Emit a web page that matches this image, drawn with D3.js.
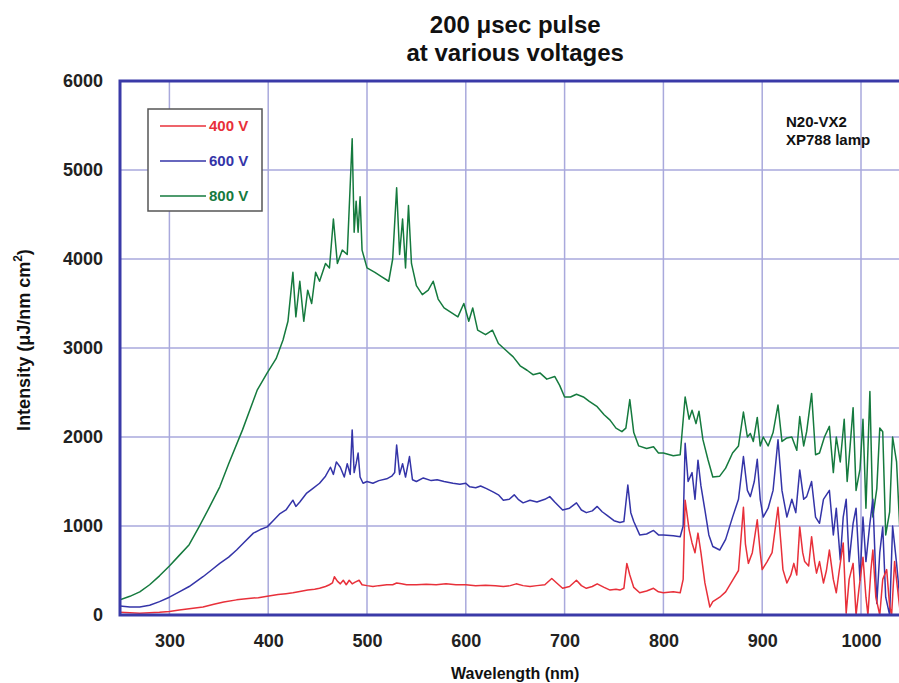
<!DOCTYPE html>
<html><head><meta charset="utf-8">
<script src="https://cdn.jsdelivr.net/npm/d3@7"></script>
<style>body{margin:0;background:#fff}svg{display:block}</style>
</head><body>
<script>
const titleLines = ["200 \u03BCsec pulse", "at various voltages"];
const xTicks = [300, 400, 500, 600, 700, 800, 900, 1000];
const yTicks = [0, 1000, 2000, 3000, 4000, 5000, 6000];
const seriesNames = ["400 V", "600 V", "800 V"];
const seriesColors = ["#e8303a", "#3434a8", "#157a3e"];

const redNm  = [250,260,270,280,290,300,310,320,334,345,355,368,380,390,399,410,418,425,432,440,447,452,458,462,465,467,470,473,476,479,482,485,488,492,495,500,506,512,520,526,530,535,540,550,560,570,580,590,600,610,620,630,638,645,651,658,665,672,680,687,692,698,705,712,717,722,728,733,740,746,752,756,760,763,766,770,776,783,790,795,800,810,817,820,822,826,829,832,835,838,842,847,850,857,863,870,876,881,883,886,890,895,898,900,905,910,916,919,921,925,929,932,935,938,941,943,947,950,953,955,958,962,965,968,972,975,978,982,985,988,992,995,998,1002,1005,1007,1010,1012,1015,1019,1022,1026,1029,1031,1034,1036,1040,1045];
const redVal = [30,25,20,25,30,40,55,70,90,120,145,170,185,195,210,230,240,250,265,280,290,300,320,340,360,430,380,350,390,340,390,350,370,390,340,330,320,330,340,340,360,350,340,340,345,340,350,340,340,330,335,330,320,330,350,330,320,330,340,410,360,300,320,390,330,300,320,350,310,280,290,280,300,580,450,310,250,270,300,260,250,260,250,400,1290,960,810,700,920,700,360,90,150,200,260,390,500,1210,800,580,700,1070,700,510,600,700,1210,800,510,360,450,580,450,990,700,600,550,880,600,470,600,360,500,730,400,250,500,810,20,400,580,0,300,650,200,0,500,730,200,0,400,510,100,0,600,390,0,500];

const blueNm  = [250,260,270,280,290,300,310,320,334,342,351,360,368,376,385,392,399,405,412,418,425,428,432,439,445,452,458,463,466,469,473,477,480,483,485,487,489,491,493,496,500,506,512,520,525,528,530,533,536,539,543,546,550,557,565,571,578,587,594,600,604,610,615,621,628,633,638,644,649,653,658,665,672,680,685,690,698,705,712,717,722,728,733,738,743,750,756,760,764,767,770,776,783,790,795,800,810,817,820,822,825,829,832,835,838,842,846,850,857,863,870,876,881,885,888,892,895,898,901,906,911,916,920,925,930,934,938,942,945,950,954,958,962,968,972,975,979,982,985,988,992,995,999,1002,1005,1009,1012,1016,1019,1022,1025,1029,1032,1036,1040,1045];
const blueVal = [100,90,90,110,150,200,260,320,430,500,580,650,730,820,920,960,990,1060,1140,1180,1290,1220,1270,1370,1420,1480,1560,1660,1580,1720,1660,1550,1700,1580,2080,1600,1700,1820,1550,1480,1500,1480,1510,1530,1560,1600,1910,1580,1700,1550,1780,1520,1500,1540,1510,1520,1500,1480,1470,1480,1440,1430,1450,1420,1380,1350,1290,1300,1350,1300,1260,1290,1270,1300,1330,1270,1180,1200,1260,1180,1150,1170,1220,1160,1120,1060,1040,1050,1460,1150,1050,900,910,950,900,900,890,880,1000,1930,1500,1600,1300,1740,1450,1180,900,770,730,850,1100,1300,1780,1400,1330,1500,1750,1300,1100,1200,1400,1970,1400,1100,1300,1150,1630,1300,1330,1500,1100,1030,1300,1400,900,1200,620,1100,1300,600,1030,1200,390,1100,600,1030,1300,130,700,990,200,0,1000,580,100,800];

const greenNm  = [250,260,270,280,290,300,310,320,330,340,351,360,374,389,399,408,415,420,425,428,432,436,440,444,448,452,458,462,466,470,475,480,485,487,489,491,493,495,500,508,515,522,526,530,533,536,539,542,545,550,556,562,567,572,578,585,592,598,603,607,612,620,627,633,640,648,655,662,668,675,682,690,695,700,706,712,719,725,733,740,746,752,758,762,766,770,775,783,790,795,800,810,817,822,826,829,833,836,840,845,850,857,863,870,876,881,885,888,891,895,898,901,906,911,916,920,925,930,935,938,942,945,950,954,958,963,968,972,975,979,983,986,989,992,995,999,1002,1005,1009,1012,1016,1019,1022,1025,1029,1032,1036,1040,1045];
const greenVal = [170,210,260,340,440,550,670,790,990,1200,1440,1700,2080,2530,2720,2880,3090,3300,3850,3350,3750,3300,3650,3500,3850,3750,3950,3900,4450,3950,4100,4050,5350,4300,4650,4300,4700,4100,3900,3850,3800,3750,4000,4800,4050,4450,3900,4600,3950,3700,3600,3650,3750,3550,3450,3400,3350,3500,3300,3450,3200,3150,3200,3050,2980,2900,2800,2750,2700,2720,2650,2680,2580,2450,2450,2480,2450,2400,2340,2250,2190,2100,2060,2100,2420,2050,1900,1870,1890,1820,1820,1790,1800,2450,2200,2300,2150,2290,1970,1750,1550,1560,1650,1820,1900,2280,2000,2040,1950,2220,1900,2000,1900,2050,2360,1950,1990,2000,1850,2230,1900,2060,2490,1800,1820,2000,2120,1600,2000,1720,2200,1500,1900,2330,1400,1640,2200,1200,2510,1100,1420,2100,2060,900,1160,2000,1720,800,1500];

const annotLines = ["N20-VX2", "XP788 lamp"];
const xLabel = "Wavelength (nm)";

const W = 899, H = 683;
const mLeft = 120, mTop = 81, mBottom = 615;
const x = d3.scaleLinear().domain([250, 1050]).range([mLeft, mLeft + 800 * 0.988]);
const y = d3.scaleLinear().domain([0, 6000]).range([mBottom, mTop]);
const FONT = "'Liberation Sans', Arial, sans-serif";

const svg = d3.select("body").append("svg").attr("width", W).attr("height", H)
  .style("font-family", FONT);

svg.append("defs").append("clipPath").attr("id", "clip")
  .append("rect").attr("x", mLeft).attr("y", mTop).attr("width", x.range()[1] - mLeft).attr("height", mBottom - mTop);

// gridlines
const grid = svg.append("g");
grid.selectAll(".vg").data(xTicks).enter().append("line")
  .attr("x1", d => x(d)).attr("x2", d => x(d)).attr("y1", mTop).attr("y2", mBottom)
  .attr("stroke", "#a9a9dc").attr("stroke-width", 1.5);
grid.selectAll(".hg").data(yTicks.filter(d => d > 0 && d < 6000)).enter().append("line")
  .attr("x1", mLeft).attr("x2", W).attr("y1", d => y(d)).attr("y2", d => y(d))
  .attr("stroke", "#a9a9dc").attr("stroke-width", 1.5);

// series
const seriesData = [
  redNm.map((n, i) => [n, redVal[i]]),
  blueNm.map((n, i) => [n, blueVal[i]]),
  greenNm.map((n, i) => [n, greenVal[i]])
];
const line = d3.line().x(d => x(d[0])).y(d => y(d[1]));
const plotG = svg.append("g").attr("clip-path", "url(#clip)");
[2, 1, 0].forEach(i => {
  plotG.append("path").datum(seriesData[i]).attr("d", line)
    .attr("fill", "none").attr("stroke", seriesColors[i]).attr("stroke-width", 1.5)
    .attr("stroke-linejoin", "round");
});

// frame
svg.append("path")
  .attr("d", `M${W + 5},${mTop}H${mLeft}V${mBottom}H${W + 5}`)
  .attr("fill", "none").attr("stroke", "#3a3aa8").attr("stroke-width", 3);

// axes labels
const xAxis = d3.axisBottom(x).tickValues(xTicks).tickSize(0).tickPadding(19).tickFormat(d3.format("d"));
const gx = svg.append("g").attr("transform", `translate(0,${mBottom})`).call(xAxis);
gx.select(".domain").remove();
gx.selectAll("text").attr("font-size", 18).attr("font-weight", "bold").attr("fill", "#222")
  .style("font-family", FONT);

const yAxis = d3.axisLeft(y).tickValues(yTicks).tickSize(0).tickPadding(17).tickFormat(d3.format("d"));
const gy = svg.append("g").attr("transform", `translate(${mLeft},0)`).call(yAxis);
gy.select(".domain").remove();
gy.selectAll("text").attr("font-size", 18).attr("font-weight", "bold").attr("fill", "#222")
  .style("font-family", FONT);

// title
const cx = (x.range()[0] + x.range()[1]) / 2;
svg.selectAll(".title").data(titleLines).enter().append("text")
  .attr("x", cx).attr("y", (d, i) => 33 + i * 28)
  .attr("text-anchor", "middle").attr("font-size", 24).attr("font-weight", "bold").attr("fill", "#111")
  .text(d => d);

// x label
svg.append("text").attr("x", cx).attr("y", 679).attr("text-anchor", "middle")
  .attr("font-size", 16).attr("font-weight", "bold").attr("fill", "#111").text(xLabel);

// y label
const yl = svg.append("text").attr("transform", "translate(30,340) rotate(-90)")
  .attr("text-anchor", "middle").attr("font-size", 18).attr("font-weight", "bold").attr("fill", "#111");
yl.append("tspan").text("Intensity  (\u03BCJ/nm cm");
yl.append("tspan").attr("font-size", 12).attr("dy", -8).text("2");
yl.append("tspan").attr("dy", 8).text(")");

// legend
const lg = svg.append("g");
lg.append("rect").attr("x", 148).attr("y", 109).attr("width", 114).attr("height", 102)
  .attr("fill", "#fff").attr("stroke", "#555").attr("stroke-width", 1.5);
seriesNames.forEach((nm, i) => {
  const yy = 126 + i * 35;
  lg.append("line").attr("x1", 160).attr("x2", 206).attr("y1", yy).attr("y2", yy)
    .attr("stroke", seriesColors[i]).attr("stroke-width", 1.5);
  lg.append("text").attr("x", 209).attr("y", yy + 5).attr("font-size", 15).attr("font-weight", "bold")
    .attr("fill", seriesColors[i]).text(nm);
});

// annotation
svg.selectAll(".annot").data(annotLines).enter().append("text")
  .attr("x", 786).attr("y", (d, i) => 127 + i * 18).attr("font-size", 15).attr("font-weight", "bold")
  .attr("fill", "#111").text(d => d);
</script>
</body></html>
